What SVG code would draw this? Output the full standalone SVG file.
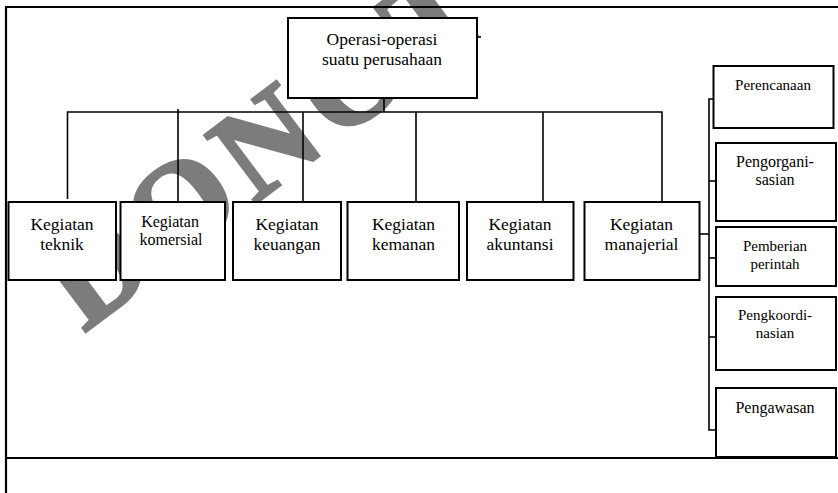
<svg xmlns="http://www.w3.org/2000/svg" width="838" height="493" viewBox="0 0 838 493">
<style>
.bx{fill:#fff;stroke:#000;stroke-width:2}
.ln{fill:none;stroke:#000;stroke-width:1.6}
.fr{fill:none;stroke:#000;stroke-width:2.2}
.t{font-family:"Liberation Serif","Times New Roman",serif;fill:#000;text-anchor:middle}
.l{font-size:17.5px}
.m{font-size:16px}
.s{font-size:15px}
.wm{font-family:"Liberation Serif","Times New Roman",serif;font-weight:700;font-size:130px;fill:#7b7c7e;stroke:#7b7c7e;stroke-width:3;letter-spacing:9px}
</style>
<rect width="838" height="493" fill="#fff"/>
<g id="watermark">
<text class="wm" font-weight="bold" transform="translate(84,333) rotate(-37)">DONOT</text>
</g>
<g id="frame">
<path class="fr" d="M838,7 H6 V493"/>
<path class="fr" d="M6,458 H838"/>
</g>
<g id="connectors">
<path class="ln" d="M384,98 V112"/>
<path class="ln" d="M67.5,199 V112 H662 V202"/>
<path class="ln" d="M178,109 V202"/>
<path class="ln" d="M303,112 V202"/>
<path class="ln" d="M416,112 V202"/>
<path class="ln" d="M543,112 V202"/>
<path class="ln" d="M477,37 H481"/>
<path class="ln" d="M700,234 H709"/>
<path class="ln" d="M718,99 H709 V430 H716"/>
<path class="ln" d="M709,181 H718"/>
<path class="ln" d="M709,258 H717"/>
<path class="ln" d="M709,337 H716"/>
</g>
<g id="n-top">
<rect class="bx" x="288" y="18" width="189" height="80"/>
<text class="t l" x="382" y="45">Operasi-operasi</text>
<text class="t l" x="382" y="65">suatu perusahaan</text>
</g>
<g id="n-teknik">
<rect class="bx" x="8.5" y="202" width="107.5" height="78"/>
<text class="t l" x="62" y="229.5">Kegiatan</text>
<text class="t l" x="62" y="249.5">teknik</text>
</g>
<g id="n-komersial">
<rect class="bx" x="120.5" y="202" width="104.5" height="78"/>
<text class="t m" x="170" y="226.5">Kegiatan</text>
<text class="t m" x="171" y="245">komersial</text>
</g>
<g id="n-keuangan">
<rect class="bx" x="233" y="202" width="108" height="78"/>
<text class="t l" x="287" y="230">Kegiatan</text>
<text class="t l" x="287" y="249.5">keuangan</text>
</g>
<g id="n-kemanan">
<rect class="bx" x="347.5" y="202" width="111.5" height="78"/>
<text class="t l" x="403.5" y="230">Kegiatan</text>
<text class="t l" x="403.5" y="249.5">kemanan</text>
</g>
<g id="n-akuntansi">
<rect class="bx" x="467" y="202" width="106.5" height="78"/>
<text class="t l" x="520" y="230">Kegiatan</text>
<text class="t l" x="520" y="249.5">akuntansi</text>
</g>
<g id="n-manajerial">
<rect class="bx" x="584.5" y="202" width="115" height="78"/>
<text class="t l" x="641.5" y="230">Kegiatan</text>
<text class="t l" x="641.5" y="249.5">manajerial</text>
</g>
<g id="n-perencanaan">
<rect class="bx" x="713.5" y="66" width="120" height="62"/>
<text class="t s" x="773" y="90">Perencanaan</text>
</g>
<g id="n-pengorganisasian">
<rect class="bx" x="716" y="143" width="120" height="78"/>
<text class="t m" x="775" y="167">Pengorgani-</text>
<text class="t m" x="775" y="185">sasian</text>
</g>
<g id="n-pemberian">
<rect class="bx" x="716" y="227" width="120" height="59"/>
<text class="t s" x="775" y="251">Pemberian</text>
<text class="t s" x="775" y="269">perintah</text>
</g>
<g id="n-pengkoordinasian">
<rect class="bx" x="716" y="297" width="120" height="73"/>
<text class="t s" x="775" y="319.5">Pengkoordi-</text>
<text class="t s" x="775" y="337.5">nasian</text>
</g>
<g id="n-pengawasan">
<rect class="bx" x="716" y="388" width="120" height="69"/>
<text class="t m" x="775" y="413">Pengawasan</text>
</g>
</svg>
